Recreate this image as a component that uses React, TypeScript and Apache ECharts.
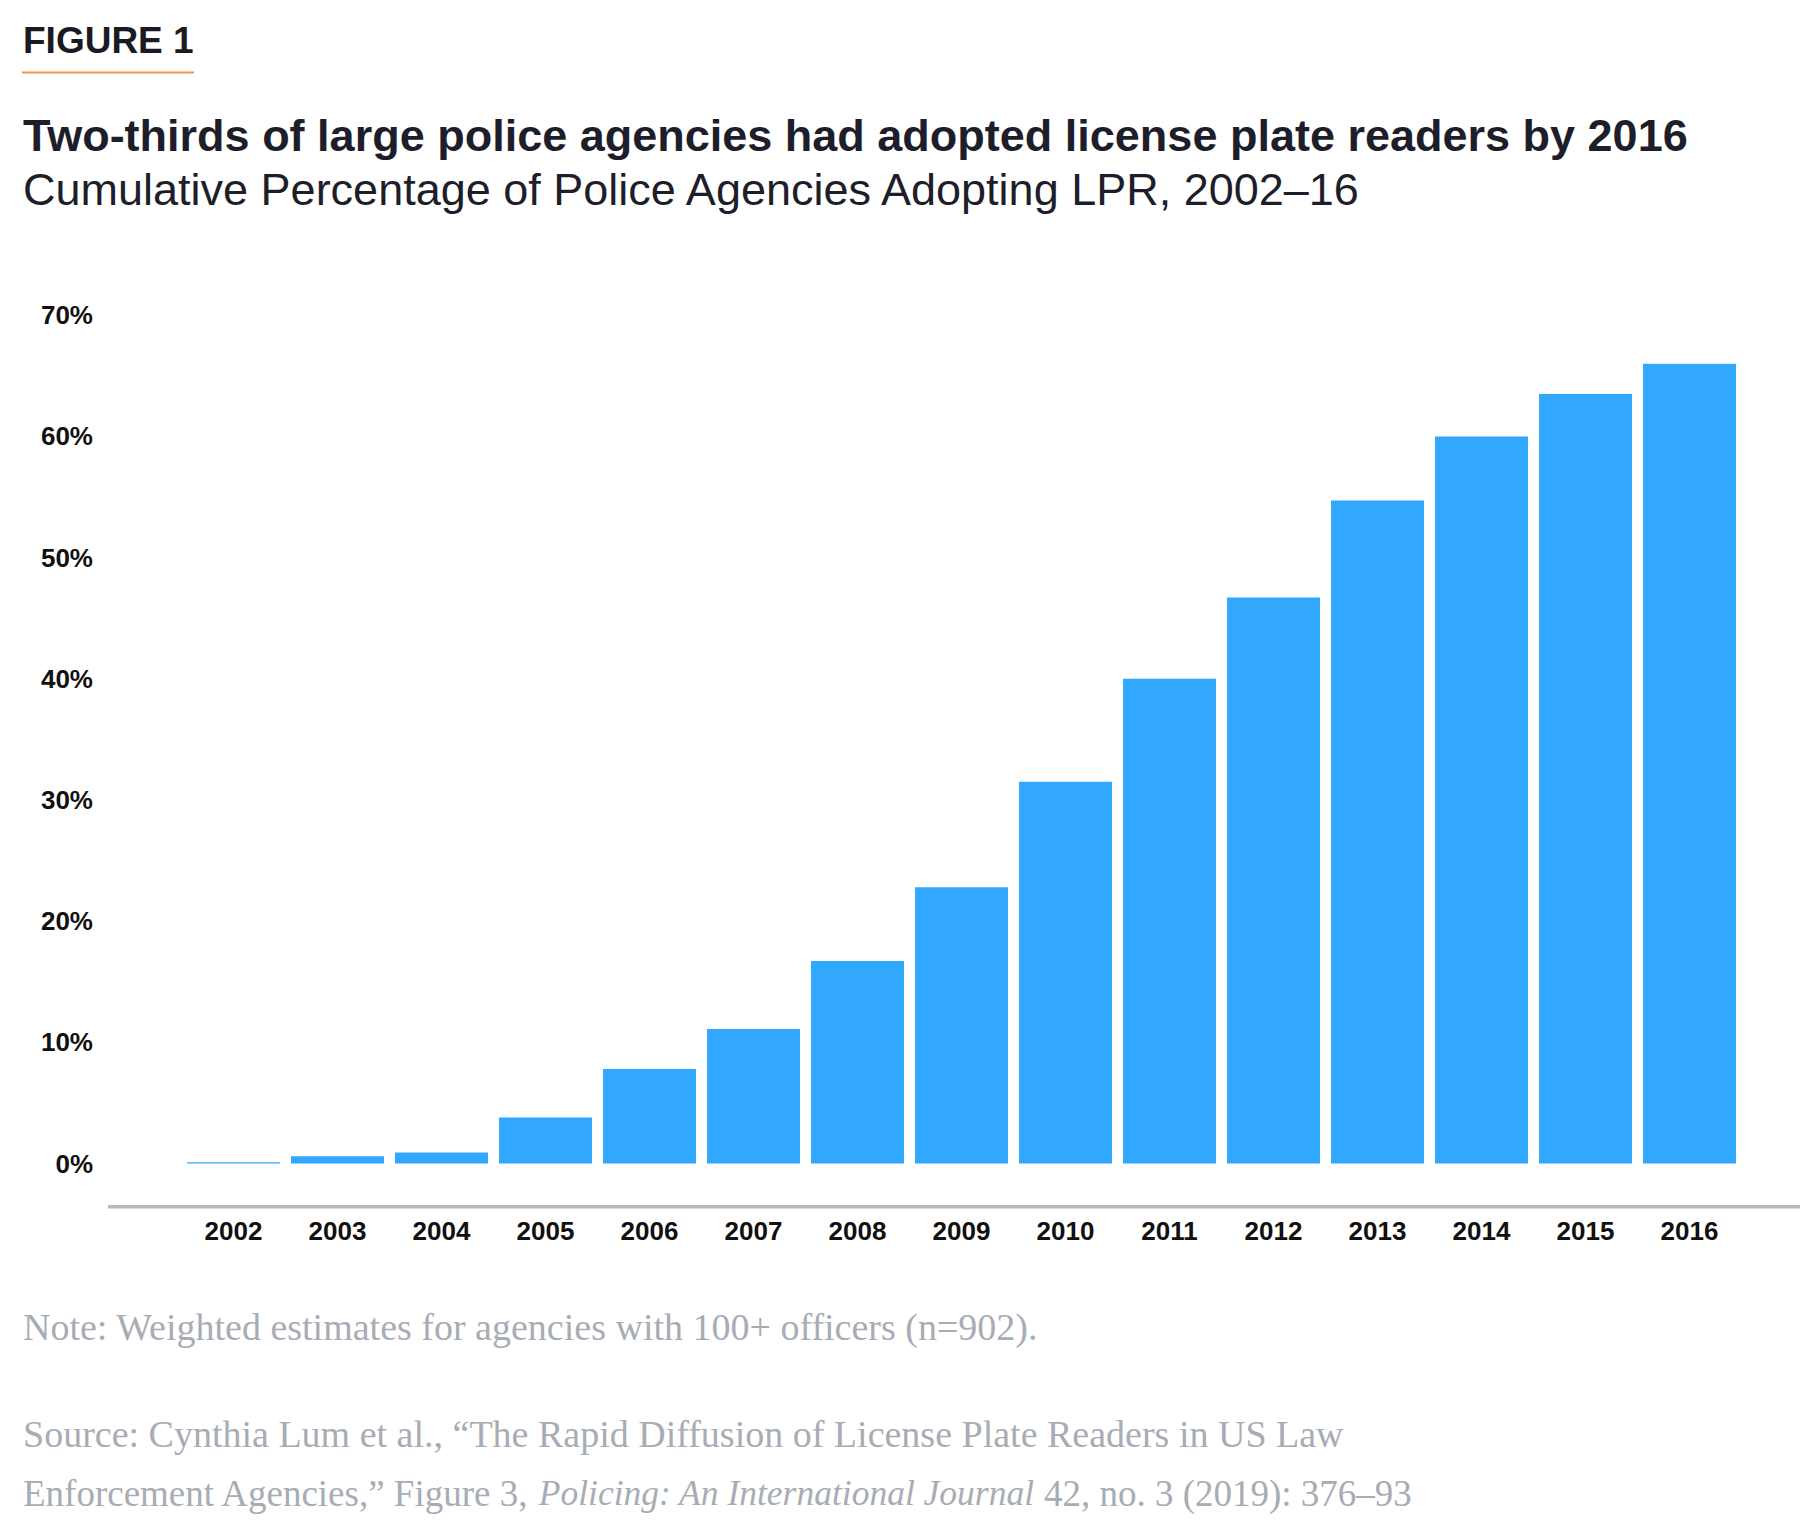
import { useEffect, useRef } from 'react'
import * as echarts from 'echarts'

const YEARS = ['2002', '2003', '2004', '2005', '2006', '2007', '2008', '2009', '2010', '2011', '2012', '2013', '2014', '2015', '2016']
const ADOPTION_PCT = [0.1, 0.6, 0.9, 3.8, 7.8, 11.1, 16.7, 22.8, 31.5, 40.0, 46.7, 54.7, 60.0, 63.5, 66.0]
const Y_MIN = 0
const Y_MAX = 70
const Y_STEP = 10

const FIGURE_LABEL = 'FIGURE 1'
const TITLE = 'Two-thirds of large police agencies had adopted license plate readers by 2016'
const SUBTITLE = 'Cumulative Percentage of Police Agencies Adopting LPR, 2002–16'
const NOTE = 'Note: Weighted estimates for agencies with 100+ officers (n=902).'
const SOURCE_1 = 'Source: Cynthia Lum et al., “The Rapid Diffusion of License Plate Readers in US Law'
const SOURCE_2 = 'Enforcement Agencies,” Figure 3, {i|Policing: An International Journal} 42, no. 3 (2019): 376–93'

const SANS = '"Liberation Sans", Arial, sans-serif'
const SERIF = '"Liberation Serif", "DejaVu Serif", serif'
const BAR_COLOR = '#31a7fe'
const NOTE_COLOR = '#a8acb4'
const NOTE_SIZE = 38

export default function App() {
  const chartRef = useRef<HTMLDivElement>(null)

  useEffect(() => {
    if (!chartRef.current) return
    const chart = echarts.init(chartRef.current, null, { renderer: 'svg' })

    const option: echarts.EChartsOption = {
      animation: false,
      backgroundColor: '#ffffff',
      grid: { left: 181.5, right: 58.5, top: 315.2, bottom: 1533 - 1163.5, containLabel: false },
      xAxis: {
        type: 'category',
        data: YEARS,
        axisLine: { show: false },
        axisTick: { show: false },
        axisLabel: {
          margin: 54,
          color: '#111111',
          fontSize: 26,
          fontWeight: 'bold',
          fontFamily: SANS,
        },
      },
      yAxis: {
        type: 'value',
        min: Y_MIN,
        max: Y_MAX,
        interval: Y_STEP,
        axisLine: { show: false },
        axisTick: { show: false },
        splitLine: { show: false },
        axisLabel: {
          formatter: '{value}%',
          margin: 88.5,
          color: '#111111',
          fontSize: 26,
          fontWeight: 'bold',
          fontFamily: SANS,
        },
      },
      series: [
        {
          type: 'bar',
          data: ADOPTION_PCT,
          barWidth: 93,
          itemStyle: { color: BAR_COLOR },
        },
      ],
      graphic: [
        {
          type: 'text',
          x: 23,
          y: 40,
          style: {
            text: FIGURE_LABEL,
            font: `bold 37px ${SANS}`,
            fill: '#1a1a22',
            verticalAlign: 'middle',
          },
        },
        {
          type: 'line',
          shape: { x1: 22, y1: 72.5, x2: 194, y2: 72.5 },
          style: { stroke: '#f0964a', lineWidth: 2 },
        },
        {
          type: 'text',
          x: 23,
          y: 135.5,
          style: {
            text: TITLE,
            font: `bold 45px ${SANS}`,
            fill: '#1e1e2a',
            verticalAlign: 'middle',
          },
        },
        {
          type: 'text',
          x: 23,
          y: 189,
          style: {
            text: SUBTITLE,
            font: `45px ${SANS}`,
            fill: '#1e1e2a',
            verticalAlign: 'middle',
          },
        },
        {
          type: 'line',
          shape: { x1: 108, y1: 1206.7, x2: 1800, y2: 1206.7 },
          style: { stroke: '#b9b9bd', lineWidth: 3.5 },
        },
        {
          type: 'text',
          x: 23,
          y: 1327,
          style: {
            text: NOTE,
            font: `${NOTE_SIZE}px ${SERIF}`,
            fill: NOTE_COLOR,
            verticalAlign: 'middle',
          },
        },
        {
          type: 'text',
          x: 23,
          y: 1434,
          style: {
            text: SOURCE_1,
            font: `${NOTE_SIZE}px ${SERIF}`,
            fill: NOTE_COLOR,
            verticalAlign: 'middle',
          },
        },
        {
          type: 'text',
          x: 23,
          y: 1493,
          style: {
            text: SOURCE_2,
            font: `37px ${SERIF}`,
            fill: NOTE_COLOR,
            verticalAlign: 'middle',
            rich: {
              i: { fontStyle: 'italic', fontSize: 35.5, fontFamily: SERIF, fill: NOTE_COLOR },
            },
          },
        },
      ],
    }

    chart.setOption(option)
    return () => chart.dispose()
  }, [])

  return (
    <div
      ref={chartRef}
      style={{ position: 'absolute', left: 0, top: 0, width: 1800, height: 1533 }}
    />
  )
}
